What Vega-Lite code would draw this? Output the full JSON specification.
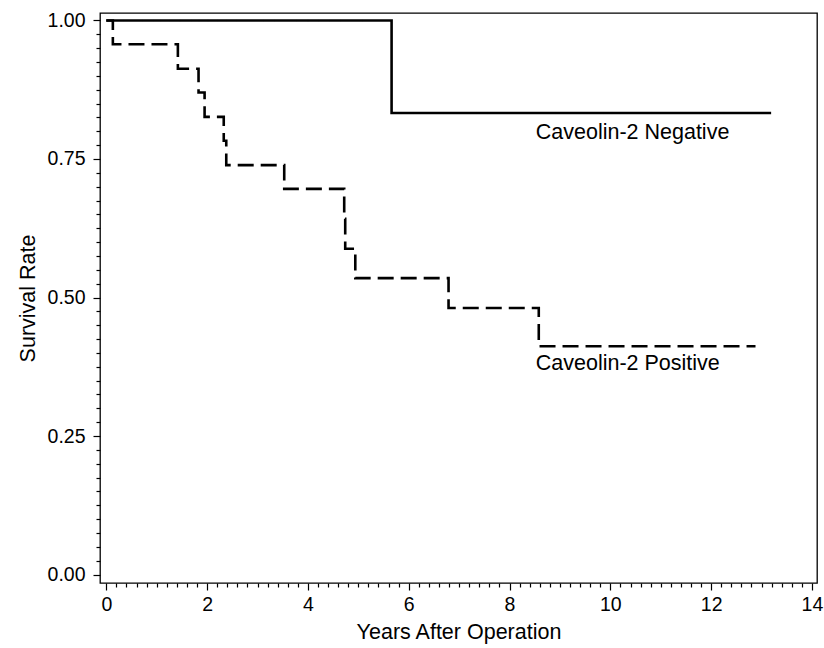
{
  "$schema": "https://vega.github.io/schema/vega-lite/v6.json",
  "width": 717,
  "height": 570,
  "autosize": {"type": "none"},
  "padding": {"left": 100, "top": 13, "right": 7, "bottom": 65},
  "background": "white",
  "config": {
    "font": "Liberation Sans",
    "view": {"stroke": "black", "strokeWidth": 1.3},
    "axis": {
      "domain": false,
      "grid": false,
      "tickColor": "black",
      "tickWidth": 1.2,
      "labelColor": "black",
      "titleColor": "black",
      "labelFont": "Liberation Sans",
      "titleFont": "Liberation Sans",
      "labelFontSize": 19.5,
      "titleFontSize": 21.5,
      "titleFontWeight": "normal"
    }
  },
  "datasets": {
    "curves": [
      {"t": 0, "s": 1.0, "group": "Negative"},
      {"t": 5.66, "s": 0.833, "group": "Negative"},
      {"t": 13.19, "s": 0.833, "group": "Negative"},
      {"t": 0, "s": 1.0, "group": "Positive"},
      {"t": 0.13, "s": 0.957, "group": "Positive"},
      {"t": 1.42, "s": 0.913, "group": "Positive"},
      {"t": 1.83, "s": 0.87, "group": "Positive"},
      {"t": 1.95, "s": 0.826, "group": "Positive"},
      {"t": 2.33, "s": 0.783, "group": "Positive"},
      {"t": 2.38, "s": 0.739, "group": "Positive"},
      {"t": 3.53, "s": 0.696, "group": "Positive"},
      {"t": 4.72, "s": 0.642, "group": "Positive"},
      {"t": 4.74, "s": 0.588, "group": "Positive"},
      {"t": 4.94, "s": 0.535, "group": "Positive"},
      {"t": 6.79, "s": 0.481, "group": "Positive"},
      {"t": 8.58, "s": 0.412, "group": "Positive"},
      {"t": 12.88, "s": 0.412, "group": "Positive"}
    ],
    "labels": [
      {"t": 8.52, "s": 0.797, "label": "Caveolin-2 Negative"},
      {"t": 8.52, "s": 0.38, "label": "Caveolin-2 Positive"}
    ]
  },
  "layer": [
    {
      "data": {"name": "curves"},
      "mark": {"type": "line", "interpolate": "step-after", "color": "black", "strokeWidth": 2.6, "strokeCap": "butt"},
      "encoding": {
        "x": {
          "field": "t", "type": "quantitative",
          "scale": {"domain": [-0.125, 14.1], "nice": false, "zero": false},
          "axis": {
            "orient": "bottom", "title": null, "labels": false, "tickSize": 4,
            "values": [0.2,0.4,0.6,0.8,1,1.2,1.4,1.6,1.8,2.2,2.4,2.6,2.8,3,3.2,3.4,3.6,3.8,4.2,4.4,4.6,4.8,5,5.2,5.4,5.6,5.8,6.2,6.4,6.6,6.8,7,7.2,7.4,7.6,7.8,8.2,8.4,8.6,8.8,9,9.2,9.4,9.6,9.8,10.2,10.4,10.6,10.8,11,11.2,11.4,11.6,11.8,12.2,12.4,12.6,12.8,13,13.2,13.4,13.6,13.8]
          }
        },
        "y": {
          "field": "s", "type": "quantitative",
          "scale": {"domain": [-0.0153, 1.0135], "nice": false, "zero": false},
          "axis": {
            "orient": "left", "title": null, "labels": false, "tickSize": 4,
            "values": [0.025,0.05,0.075,0.1,0.125,0.15,0.175,0.2,0.225,0.275,0.3,0.325,0.35,0.375,0.4,0.425,0.45,0.475,0.525,0.55,0.575,0.6,0.625,0.65,0.675,0.7,0.725,0.775,0.8,0.825,0.85,0.875,0.9,0.925,0.95,0.975]
          }
        },
        "detail": {"field": "group"},
        "strokeDash": {
          "field": "group", "type": "nominal",
          "scale": {"domain": ["Negative", "Positive"], "range": [[1, 0], [16, 7]]},
          "legend": null
        }
      }
    },
    {
      "data": {"name": "labels"},
      "mark": {"type": "text", "align": "left", "baseline": "middle", "font": "Liberation Sans", "fontSize": 21.5, "color": "black"},
      "encoding": {
        "x": {
          "field": "t", "type": "quantitative",
          "axis": {
            "orient": "bottom", "title": "Years After Operation", "tickSize": 7,
            "values": [0, 2, 4, 6, 8, 10, 12, 14], "labelPadding": 5, "titlePadding": 8
          }
        },
        "y": {
          "field": "s", "type": "quantitative",
          "axis": {
            "orient": "left", "title": "Survival Rate", "tickSize": 7,
            "values": [0, 0.25, 0.5, 0.75, 1], "format": ".2f", "labelPadding": 8, "titlePadding": 8
          }
        },
        "text": {"field": "label"}
      }
    }
  ],
  "resolve": {"axis": {"x": "independent", "y": "independent"}}
}
